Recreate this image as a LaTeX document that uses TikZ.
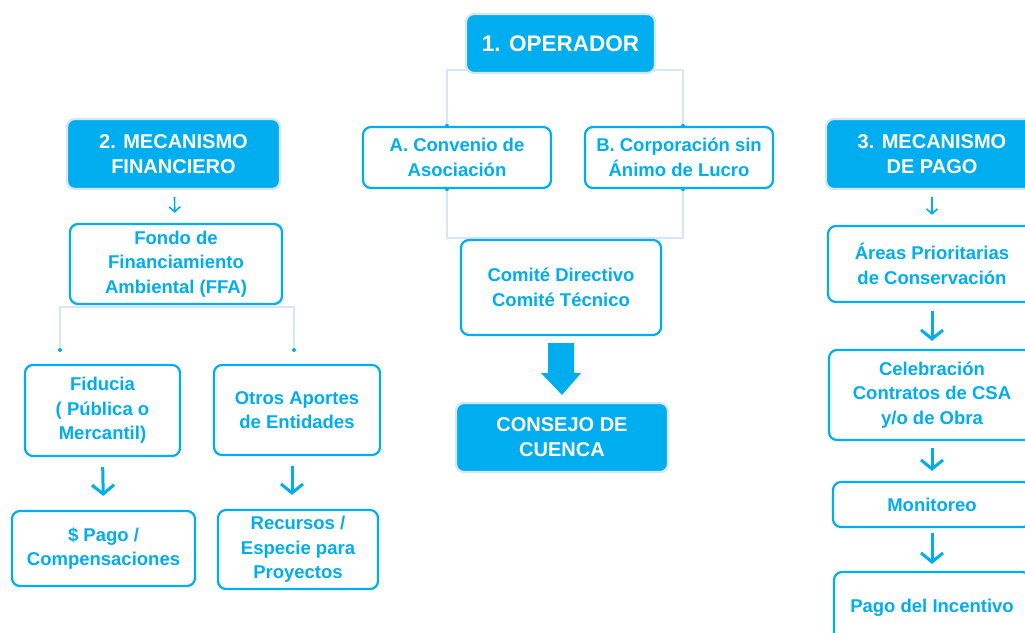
\documentclass[tikz,border=0pt]{standalone}
\usepackage{fontspec}
\setmainfont{Liberation Sans}
\usetikzlibrary{arrows.meta,calc,backgrounds}
\definecolor{cian}{HTML}{00AEEF}
\definecolor{cianclaro}{HTML}{D6E7F1}
\tikzset{
  caja/.style={draw=cian, line width=2.2pt, rounded corners=8pt, fill=white,
    text=cian, align=center, inner sep=0pt,
    font=\bfseries\fontsize{18.5}{24.5}\selectfont},
  titulo/.style={caja, fill=cian, draw=cianclaro, text=white,
    font=\bfseries\fontsize{20}{25}\selectfont},
  enlace/.style={draw=cianclaro, line width=2pt},
  flechita/.style={draw=cian, line width=1.6pt,
    -{Straight Barb[length=5pt,width=11pt]}, shorten <=7pt, shorten >=10pt},
  flecha/.style={draw=cian, line width=3pt,
    -{Straight Barb[length=9pt,width=22pt]}},
}
\begin{document}
\begin{tikzpicture}[x=1pt,y=-1pt]
\useasboundingbox (0,0) rectangle (1025,632);
% operador
\node[titulo, minimum width=189pt, minimum height=59pt, font=\bfseries\fontsize{22.5}{26}\selectfont] (oper) at (560.5,43.5) {1. OPERADOR};
\node[caja, minimum width=188pt, minimum height=61pt] (conv) at (457,157.5) {A. Convenio de\\Asociación};
\node[caja, minimum width=188pt, minimum height=61pt] (corp) at (679,157.5) {B. Corporación sin\\Ánimo de Lucro};
\node[caja, minimum width=200pt, minimum height=95pt] (comite) at (561,287.5) {Comité Directivo\\Comité Técnico};
\node[titulo, minimum width=212pt, minimum height=69pt] (consejo) at (562,437.5) {CONSEJO DE\\CUENCA};
% mecanismo financiero
\node[titulo, minimum width=213pt, minimum height=70pt] (mecfin) at (173.5,154) {2. MECANISMO\\FINANCIERO};
\node[caja, minimum width=212pt, minimum height=80pt] (ffa) at (176,264) {Fondo de\\Financiamiento\\Ambiental (FFA)};
\node[caja, minimum width=155pt, minimum height=91pt] (fiducia) at (102.5,410.5) {Fiducia\\( Pública o\\Mercantil)};
\node[caja, minimum width=166pt, minimum height=90pt] (otros) at (297,410) {Otros Aportes\\de Entidades};
\node[caja, minimum width=183pt, minimum height=75pt] (pago) at (103.5,548.5) {\$ Pago /\\Compensaciones};
\node[caja, minimum width=160pt, minimum height=79pt] (recursos) at (298,549.5) {Recursos /\\Especie para\\Proyectos};
% mecanismo de pago
\node[titulo, minimum width=212pt, minimum height=70pt] (mecpago) at (932,154) {3. MECANISMO\\DE PAGO};
\node[caja, minimum width=208pt, minimum height=76pt] (areas) at (932,264) {Áreas Prioritarias\\de Conservación};
\node[caja, minimum width=206pt, minimum height=90pt] (celeb) at (932,395) {Celebración\\Contratos de CSA\\y/o de Obra};
\node[caja, minimum width=198pt, minimum height=45pt] (monit) at (932,504.5) {Monitoreo};
\node[caja, minimum width=196pt, minimum height=72pt] (incent) at (932,608) {Pago del Incentivo};
% conectores
\coordinate (convarr) at ([xshift=-10pt]conv.north);
\coordinate (convab) at ([xshift=-10pt]conv.south);
\coordinate (corparr) at ([xshift=4pt]corp.north);
\coordinate (corpab) at ([xshift=4pt]corp.south);
\coordinate (ffaizq) at (60,350);
\coordinate (ffader) at (294,350);
\begin{scope}[on background layer]
  \draw[enlace] (convarr) |- ([yshift=4pt]oper.south) -| (corparr);
  \draw[enlace] (convab) |- ([yshift=1pt]comite.north) -| (corpab);
  \draw[enlace] (ffaizq) |- ([yshift=-2pt]ffa.south) -| (ffader);
\end{scope}
\foreach \p in {convarr, corparr, convab, corpab, ffaizq, ffader} {
  \fill[cian] (\p) circle (2pt);
}
% flechas
\draw[flechita] (mecfin) -- (ffa);
\draw[flechita] (mecpago) -- (areas);
\draw[flecha, shorten <=10pt, shorten >=14pt] (fiducia.south) -- (pago.north);
\draw[flecha, shorten <=10pt, shorten >=14pt] ([xshift=-5pt]otros.south) -- ([xshift=-6pt]recursos.north);
\draw[flecha, shorten <=8pt, shorten >=8pt] (areas) -- (celeb);
\draw[flecha, shorten <=7pt, shorten >=10pt] (celeb) -- (monit);
\draw[flecha, shorten <=5pt, shorten >=7pt] (monit) -- (incent);
\fill[cian] ($(comite.south)+(-13,7)$) -- ($(comite.south)+(13,7)$) -- ($(comite.south)+(13,37)$)
  -- ($(comite.south)+(20,37)$) -- ($(consejo.north)+(0,-7)$) -- ($(comite.south)+(-20,37)$)
  -- ($(comite.south)+(-13,37)$) -- cycle;
\end{tikzpicture}
\end{document}
